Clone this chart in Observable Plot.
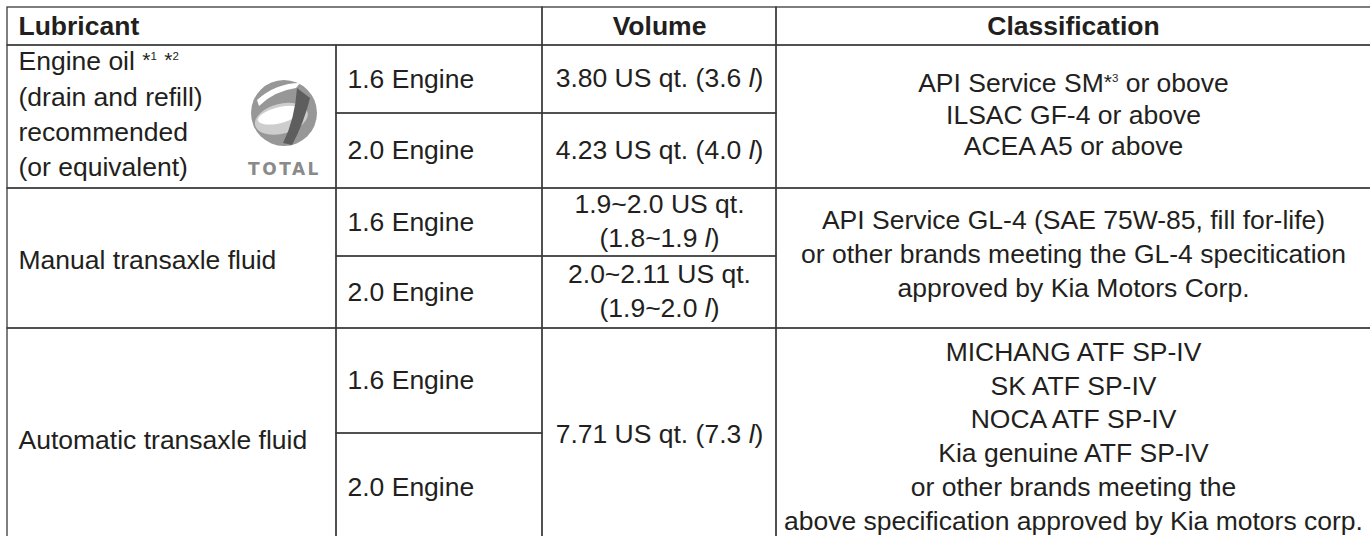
<!DOCTYPE html>
<html><head><meta charset="utf-8">
<script src="https://cdn.jsdelivr.net/npm/d3@7"></script>
<script src="https://cdn.jsdelivr.net/npm/@observablehq/plot@0.6"></script>
<style>
html,body{margin:0;padding:0;background:#fff;}
svg{display:block}
</style></head><body><div id="chart"></div>
<script>
// ---------- content ----------
const headers = ["Lubricant", "Volume", "Classification"];
const lubricants = [
  "Engine oil *1 *2\n(drain and refill)\nrecommended\n(or equivalent)",
  "Manual transaxle fluid",
  "Automatic transaxle fluid"
];
const engines = ["1.6 Engine", "2.0 Engine"];
const volumesEngineOil = ["3.80 US qt. (3.6 l)", "4.23 US qt. (4.0 l)"];
const volumesManual = ["1.9~2.0 US qt.\n(1.8~1.9 l)", "2.0~2.11 US qt.\n(1.9~2.0 l)"];
const volumesAutomatic = ["7.71 US qt. (7.3 l)"];
const classifications = [
  "API Service SM*3 or obove\nILSAC GF-4 or above\nACEA A5 or above",
  "API Service GL-4 (SAE 75W-85, fill for-life)\nor other brands meeting the GL-4 specitication\napproved by Kia Motors Corp.",
  "MICHANG ATF SP-IV\nSK ATF SP-IV\nNOCA ATF SP-IV\nKia genuine ATF SP-IV\nor other brands meeting the\nabove specification approved by Kia motors corp."
];
const logoText = ["TOTAL"];

// ---------- layout ----------
const W = 1370, H = 536;
const colX = [7, 336, 542, 776, 1376];
const headerY = [7, 45];
const groupY = [[45, 113, 188], [188, 256, 328], [328, 433, 542]];
const volumes = [volumesEngineOil, volumesManual, volumesAutomatic];
const nudge = {lub: [-5, -1, 2], eng: 0, vol: -3, cls: [-3.5, -6.5, -1]};
const lineHeights = {lub: 1.33, vol: 1.28, cls: [1.19, 1.28, 1.275]};
const FS = 26.5;
const INK = "#231f20";
const LINE = "#3a3a3a";
const FONT = "Liberation Sans, Arial, Helvetica, sans-serif";

// ---------- build cell tables ----------
const cells = [];
const texts = {header: [], lub: [], eng: [], vol: [], cls: []};
const hMid = (headerY[0] + headerY[1]) / 2;
cells.push({x1: colX[0], x2: colX[2], y1: headerY[0], y2: headerY[1]});
cells.push({x1: colX[2], x2: colX[3], y1: headerY[0], y2: headerY[1]});
cells.push({x1: colX[3], x2: colX[4], y1: headerY[0], y2: headerY[1]});
texts.header.push({x: colX[0] + 11, y: hMid, t: headers[0], a: "start"});
texts.header.push({x: (colX[2] + colX[3]) / 2, y: hMid, t: headers[1], a: "middle"});
texts.header.push({x: (colX[3] + colX[4] - 6) / 2, y: hMid, t: headers[2], a: "middle"});

groupY.forEach((gy, g) => {
  const top = gy[0], bot = gy[gy.length - 1];
  cells.push({x1: colX[0], x2: colX[1], y1: top, y2: bot});
  texts.lub.push({x: colX[0] + 11, y: (top + bot) / 2 + nudge.lub[g], t: lubricants[g], g});
  engines.forEach((e, i) => {
    cells.push({x1: colX[1], x2: colX[2], y1: gy[i], y2: gy[i + 1]});
    texts.eng.push({x: colX[1] + 11, y: (gy[i] + gy[i + 1]) / 2 + nudge.eng, t: e});
  });
  const vs = volumes[g];
  vs.forEach((v, i) => {
    const y1 = vs.length === engines.length ? gy[i] : top;
    const y2 = vs.length === engines.length ? gy[i + 1] : bot;
    cells.push({x1: colX[2], x2: colX[3], y1, y2});
    texts.vol.push({x: (colX[2] + colX[3]) / 2, y: (y1 + y2) / 2 + nudge.vol, t: v});
  });
  cells.push({x1: colX[3], x2: colX[4], y1: top, y2: bot});
  texts.cls.push({x: (colX[3] + colX[4] - 6) / 2, y: (top + bot) / 2 + nudge.cls[g], t: classifications[g], g});
});

// logo placement inside the engine-oil lubricant cell
const logo = {x: 284, y: 113, textY: 169};

function logoMark(index, scales) {
  const sx = scales && scales.x ? scales.x : (d => d);
  const sy = scales && scales.y ? scales.y : (d => d);
  const cx = sx(logo.x), cy = sy(logo.y);
  const g = d3.create("svg:g").attr("transform", `translate(${cx},${cy})`);
  g.append("circle").attr("r", 33).attr("fill", "#979797");
  g.append("ellipse").attr("cx", -4).attr("cy", 5).attr("rx", 27).attr("ry", 15)
    .attr("transform", "rotate(-14)").attr("fill", "#cdcdcd");
  g.append("ellipse").attr("cx", -5).attr("cy", 1).attr("rx", 22).attr("ry", 8)
    .attr("transform", "rotate(-14)").attr("fill", "#fff");
  g.append("path").attr("d", "M13,-25 L26,-15 Q20,10 8,32 L-1,30 Q11,6 13,-25 Z").attr("fill", "#5e5e5e");
  g.append("path").attr("d", "M-27,-13 Q-8,-30 16,-30 L12,-25 Q-10,-22 -25,-7 Z").attr("fill", "#fff");
  return g.node();
}

const common = {x: "x", y: "y", text: "t", fontSize: FS, fontFamily: FONT, fill: INK, lineAnchor: "middle"};

const svg = Plot.plot({
  width: W, height: H,
  margin: 0,
  x: {domain: [0, W], range: [0, W], axis: null},
  y: {domain: [0, H], range: [0, H], axis: null},
  style: {background: "#fff"},
  marks: [
    logoMark,
    Plot.text(logoText, {x: () => logo.x, y: () => logo.textY, text: d => d, fontSize: 17, fontWeight: "bold",
      fontFamily: "DejaVu Sans, sans-serif", fill: "#8a8a8a", textAnchor: "middle", lineAnchor: "middle"}),
    Plot.rect(cells, {x1: "x1", x2: "x2", y1: "y1", y2: "y2", fill: "none", stroke: LINE, strokeWidth: 1.3}),
    Plot.text(texts.header.filter(d => d.a === "start"), {...common, textAnchor: "start", fontWeight: "bold"}),
    Plot.text(texts.header.filter(d => d.a === "middle"), {...common, textAnchor: "middle", fontWeight: "bold"}),
    Plot.text(texts.lub, {...common, textAnchor: "start", lineHeight: lineHeights.lub}),
    Plot.text(texts.eng, {...common, textAnchor: "start"}),
    Plot.text(texts.vol, {...common, textAnchor: "middle", lineHeight: lineHeights.vol}),
    ...texts.cls.map(d => Plot.text([d], {...common, textAnchor: "middle", lineHeight: lineHeights.cls[d.g]}))
  ]
});

// typographic details: superscript footnote marks, italic litre symbol, logo letter spacing
const NS = "http://www.w3.org/2000/svg";
svg.querySelectorAll("text, tspan").forEach(el => {
  if (el.children.length) return;
  const s = el.textContent;
  if (s === logoText[0]) { el.setAttribute("letter-spacing", "2.5"); return; }
  if (!/\*\d| l\)/.test(s)) return;
  el.textContent = "";
  s.split(/(\*\d|l\))/).forEach(part => {
    if (!part) return;
    if (/^\*\d$/.test(part)) {
      const a = document.createElementNS(NS, "tspan");
      a.setAttribute("font-size", 21); a.setAttribute("baseline-shift", "3");
      a.textContent = "*";
      const d = document.createElementNS(NS, "tspan");
      d.setAttribute("font-size", 11.5); d.setAttribute("baseline-shift", "10.5");
      d.textContent = part[1];
      el.appendChild(a); el.appendChild(d);
    } else if (part === "l)") {
      const i = document.createElementNS(NS, "tspan");
      i.setAttribute("font-style", "italic");
      i.textContent = "l";
      el.appendChild(i);
      el.appendChild(document.createTextNode(")"));
    } else {
      el.appendChild(document.createTextNode(part));
    }
  });
});

document.getElementById("chart").appendChild(svg);
</script>
</body></html>
